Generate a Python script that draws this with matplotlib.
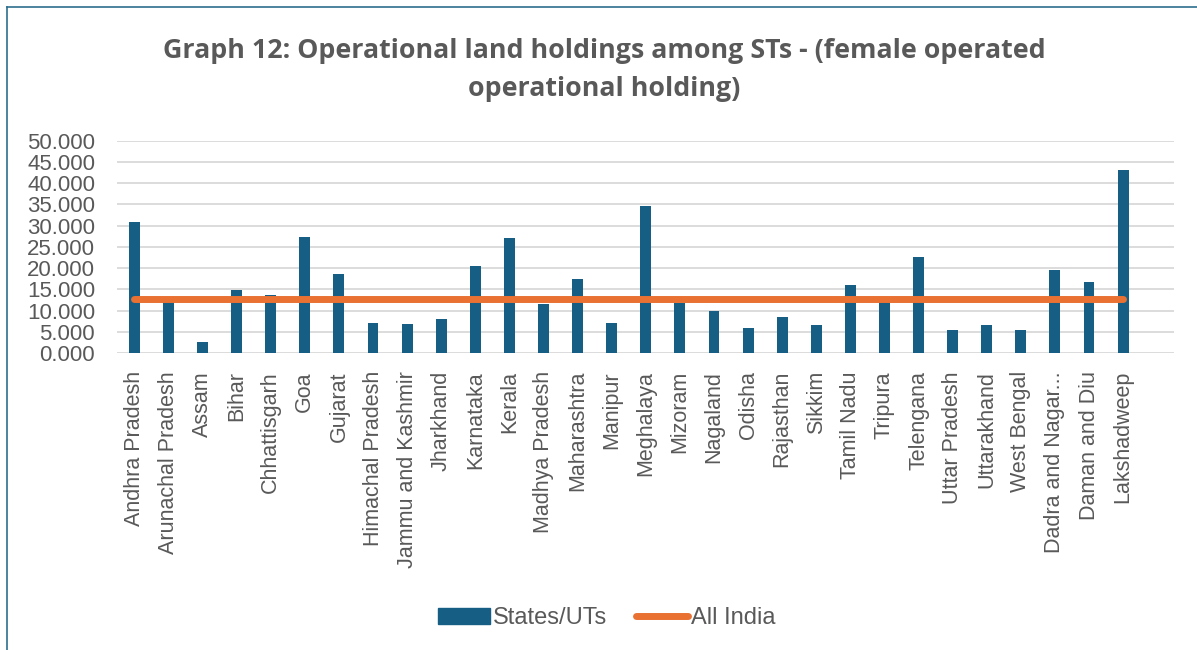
import numpy as np
import matplotlib.pyplot as plt
from matplotlib.lines import Line2D

# categories (last one is an empty slot in the source chart)
states = ["Andhra Pradesh", "Arunachal Pradesh", "Assam", "Bihar", "Chhattisgarh",
          "Goa", "Gujarat", "Himachal Pradesh", "Jammu and Kashmir", "Jharkhand",
          "Karnataka", "Kerala", "Madhya Pradesh", "Maharashtra", "Manipur",
          "Meghalaya", "Mizoram", "Nagaland", "Odisha", "Rajasthan", "Sikkim",
          "Tamil Nadu", "Tripura", "Telengana", "Uttar Pradesh", "Uttarakhand",
          "West Bengal", "Dadra and Nagar...", "Daman and Diu", "Lakshadweep", ""]
st_values = [30.9, 12.3, 2.5, 14.8, 13.6, 27.4, 18.5, 7.1, 6.9, 7.9,
             20.5, 27.0, 11.5, 17.4, 6.95, 34.6, 11.8, 9.8, 5.8, 8.4, 6.7,
             16.1, 12.3, 22.7, 5.5, 6.7, 5.3, 19.6, 16.6, 43.0, np.nan]
all_india = [12.7] * 30 + [np.nan]

bar_color = "#165E83"
line_color = "#E97132"
txt_color = "#595959"
plt.rcParams['font.family'] = ['Liberation Sans', 'DejaVu Sans']

fig = plt.figure(figsize=(11.97, 6.5), dpi=100)
ax = fig.add_axes([0.098, 0.457, 0.883, 0.3265])

x = np.arange(len(states))
ax.bar(x, st_values, width=0.32, color=bar_color, zorder=2)
ax.plot(x, all_india, color=line_color, lw=5, solid_capstyle="round", zorder=3)

ax.set_xlim(-0.5, len(states) - 0.5)
ax.set_ylim(0, 50)
ax.set_yticks(np.arange(0, 51, 5))
ax.set_yticklabels(["%.3f" % v for v in np.arange(0, 51, 5)])
ax.set_xticks(x)
ax.set_xticklabels(states, rotation=90)
ax.tick_params(axis="both", length=0, colors=txt_color)
ax.tick_params(axis="x", pad=13, labelsize=15.5)
ax.tick_params(axis="y", pad=16, labelsize=16)
ax.grid(axis="y", color="#D9D9D9", lw=1.3, zorder=0)
for s in ax.spines.values():
    s.set_visible(False)

fig.text(0.505, 0.892, "Graph 12: Operational land holdings among STs - (female operated\noperational holding)",
         ha="center", va="center", fontsize=19.3, fontweight="bold", color=txt_color,
         family="Open Sans", linespacing=1.6)

handles = [plt.Rectangle((0, 0), 1, 1, color=bar_color),
           Line2D([0], [0], color=line_color, lw=5, solid_capstyle="round")]
fig.legend(handles, ["States/UTs", "All India"], loc="center", bbox_to_anchor=(0.507, 0.049),
           ncol=2, frameon=False, fontsize=17, labelcolor=txt_color,
           handlelength=2.2, handletextpad=0.15, columnspacing=1.2)

# frame of the chart box (top and left edges visible)
fig.add_artist(Line2D([0.006, 1.0], [0.989, 0.989], color="#2E6E8E", lw=1.2, transform=fig.transFigure))
fig.add_artist(Line2D([0.006, 0.006], [0.0, 0.989], color="#2E6E8E", lw=1.2, transform=fig.transFigure))

fig.savefig("out.png", dpi=100)
